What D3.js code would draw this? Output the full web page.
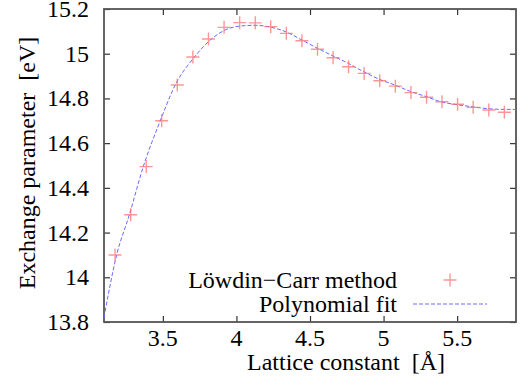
<!DOCTYPE html>
<html>
<head>
<meta charset="utf-8">
<script src="https://cdn.jsdelivr.net/npm/d3@7"></script>
<style>
  body { margin: 0; background: #fff; }
  text { font-family: "Liberation Serif", "Times New Roman", serif; fill: #000; }
</style>
</head>
<body>
<script>
// Löwdin-Carr points
var latticeA = [3.175, 3.281, 3.387, 3.492, 3.598, 3.704, 3.810, 3.916, 4.022, 4.128,
                4.233, 4.339, 4.445, 4.551, 4.657, 4.762, 4.868, 4.974, 5.080, 5.186,
                5.292, 5.397, 5.503, 5.609, 5.715, 5.821];
var exchangeEV = [14.10, 14.28, 14.495, 14.70, 14.86, 14.985, 15.066, 15.118, 15.139, 15.138,
                  15.121, 15.091, 15.058, 15.02, 14.982, 14.942, 14.912, 14.879, 14.855, 14.826,
                  14.805, 14.785, 14.774, 14.76, 14.748, 14.738];

// polynomial fit
var fitA = [3.10, 3.186, 3.272, 3.367, 3.48, 3.584, 3.713, 3.831, 3.93, 4.03, 4.13, 4.23, 4.34,
            4.44, 4.54, 4.65, 4.76, 4.86, 4.97, 5.08, 5.18, 5.29, 5.39, 5.50, 5.61, 5.71, 5.82, 5.90];
var fitEV = [13.82, 14.10, 14.279, 14.495, 14.696, 14.86, 14.984, 15.066, 15.108, 15.124, 15.127,
             15.119, 15.097, 15.063, 15.028, 14.992, 14.957, 14.921, 14.886, 14.859, 14.832,
             14.808, 14.785, 14.772, 14.762, 14.754, 14.751, 14.751];

var xTicks = [3.5, 4, 4.5, 5, 5.5];
var yTicks = [13.8, 14, 14.2, 14.4, 14.6, 14.8, 15, 15.2];

var plotL = 104, plotR = 516, plotT = 9, plotB = 322;

var svg = d3.select("body").append("svg");
svg.attr("width", 531);
svg.attr("height", 380);

var x = d3.scaleLinear().domain([3.1, 5.9]).range([plotL, plotR]);
var y = d3.scaleLinear().domain([13.8, 15.2]).range([plotB, plotT]);

svg.append("clipPath").attr("id", "plot")
    .append("rect")
    .attr("x", plotL).attr("y", plotT)
    .attr("width", plotR - plotL).attr("height", plotB - plotT);

// ticks on all four sides, pointing in
var tickLen = 6;
var axB = d3.axisBottom(x).tickValues(xTicks).tickSize(-tickLen).tickFormat("");
var axT = d3.axisTop(x).tickValues(xTicks).tickSize(-tickLen).tickFormat("");
var axL = d3.axisLeft(y).tickValues(yTicks).tickSize(-tickLen).tickFormat("");
var axR = d3.axisRight(y).tickValues(yTicks).tickSize(-tickLen).tickFormat("");

svg.append("g").attr("transform", "translate(0," + plotB + ")").call(axB);
svg.append("g").attr("transform", "translate(0," + plotT + ")").call(axT);
svg.append("g").attr("transform", "translate(" + plotL + ",0)").call(axL);
svg.append("g").attr("transform", "translate(" + plotR + ",0)").call(axR);

svg.selectAll(".domain").remove();
svg.selectAll(".tick line").attr("stroke", "#333").attr("stroke-width", 1.2);

svg.append("rect")
    .attr("x", plotL).attr("y", plotT)
    .attr("width", plotR - plotL).attr("height", plotB - plotT)
    .attr("fill", "none")
    .attr("stroke", "#555")
    .attr("stroke-width", 1.8);

// tick labels
svg.selectAll(".xlab")
    .data(xTicks)
    .enter()
    .append("text")
    .attr("x", function(d){ return x(d) })
    .attr("y", 346)
    .attr("text-anchor", "middle")
    .style("font-size", "24px")
    .text(function(d){ return d });

svg.selectAll(".ylab")
    .data(yTicks)
    .enter()
    .append("text")
    .attr("x", 89)
    .attr("y", function(d){ return y(d) + 8 })
    .attr("text-anchor", "end")
    .style("font-size", "24px")
    .text(function(d){ return d });

// axis titles
svg.append("text")
    .attr("x", 346)
    .attr("y", 370)
    .attr("text-anchor", "middle")
    .style("font-size", "24px")
    .style("white-space", "pre")
    .text("Lattice constant  [Å]");

svg.append("text")
    .attr("transform", "translate(35,163) rotate(-90)")
    .attr("text-anchor", "middle")
    .style("font-size", "24px")
    .style("white-space", "pre")
    .text("Exchange parameter  [eV]");

// fit curve
var fitData = fitA.map(function(a, i){ return [a, fitEV[i]] });
var line = d3.line()
    .x(function(d){ return x(d[0]) })
    .y(function(d){ return y(d[1]) })
    .curve(d3.curveMonotoneX);

svg.append("path")
    .datum(fitData)
    .attr("clip-path", "url(#plot)")
    .attr("d", line)
    .attr("fill", "none")
    .attr("stroke", "#6a6aff")
    .attr("stroke-width", 1)
    .attr("stroke-dasharray", "4,2");

// plus markers
var pts = latticeA.map(function(a, i){ return [a, exchangeEV[i]] });
var plusSize = 6.5;
var plus = function(px, py){
    return "M" + (px - plusSize) + "," + py + "H" + (px + plusSize) +
           "M" + px + "," + (py - plusSize) + "V" + (py + plusSize);
};

svg.selectAll(".pt")
    .data(pts)
    .enter()
    .append("path")
    .attr("d", function(d){ return plus(x(d[0]), y(d[1])) })
    .attr("fill", "none")
    .attr("stroke", "#ff6a6a")
    .attr("stroke-opacity", 0.7)
    .attr("stroke-width", 1.4);

// legend
svg.append("text")
    .attr("x", 397).attr("y", 288)
    .attr("text-anchor", "end")
    .style("font-size", "24px")
    .text("Löwdin\u2212Carr method");

svg.append("text")
    .attr("x", 397).attr("y", 312)
    .attr("text-anchor", "end")
    .style("font-size", "24px")
    .text("Polynomial fit");

svg.append("path")
    .attr("d", plus(450, 280))
    .attr("fill", "none")
    .attr("stroke", "#ff6a6a")
    .attr("stroke-opacity", 0.7)
    .attr("stroke-width", 1.4);

svg.append("line")
    .attr("x1", 413).attr("x2", 487)
    .attr("y1", 304).attr("y2", 304)
    .attr("stroke", "#6a6aff")
    .attr("stroke-width", 1)
    .attr("stroke-dasharray", "4,2");
</script>
</body>
</html>
